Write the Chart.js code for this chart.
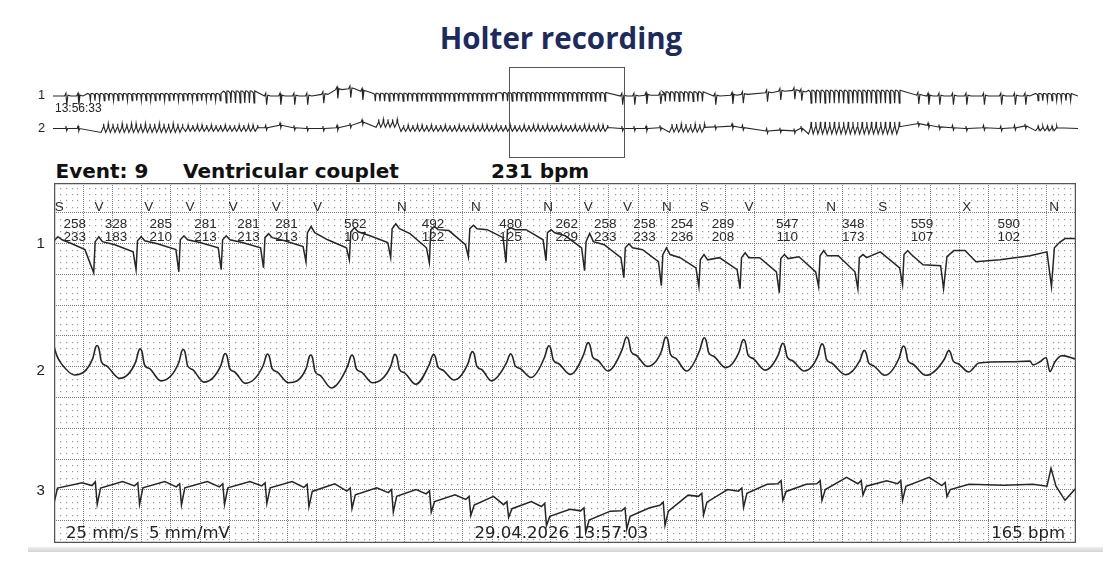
<!DOCTYPE html>
<html lang="en">
<head>
<meta charset="utf-8">
<title>Holter recording</title>
<script src="https://cdn.jsdelivr.net/npm/chart.js"></script>
<style>
  html, body { margin: 0; padding: 0; background: #fff; }
  body { width: 1116px; height: 568px; position: relative; overflow: hidden; }
  .t { position: absolute; white-space: pre; line-height: 1; }
  #ovWrap { position: absolute; left: 53px; top: 66px; width: 1025px; height: 93px; }
  #stripWrap { position: absolute; left: 54px; top: 183px; width: 1022px; height: 360px; }
  .shade { position: absolute; left: 28px; top: 547px; width: 1075px; height: 5px;
           background: linear-gradient(#eeeeee, #d4d4d4); }
</style>
</head>
<body>
<div id="ovWrap"><canvas id="overview" width="1025" height="93"></canvas></div>
<div id="stripWrap"><canvas id="strip" width="1022" height="360"></canvas></div>
<div class="shade"></div>

<script>
// ---------- event strip (7 s, 25 mm/s, 5 mm/mV), times in s, values in mV ----------
const stripSeconds = 7;
const leadOffset = [9, 5, 1];          // baseline of lead 1/2/3 on the paper, in mV

// lead 1: deep negative deflection per beat, then upstroke, small spike, plateau, slope down
const l1InT = [0, 0.027, 0.055, 0.123, 0.212];
const l1InV = [0.09, 0.22, 0.12, -0.01, -0.20];
const l1NadirT = [0.272, 0.562, 0.855, 1.145, 1.435, 1.726, 2.023, 2.306, 2.571, 2.838, 3.096,
                  3.370, 3.634, 3.903, 4.160, 4.417, 4.699, 4.968, 5.237, 5.506, 5.812, 6.093];
const l1NadirV = [-0.95, -0.85, -0.92, -0.85, -0.79, -0.59, -0.53, -0.46, -0.62, -0.43, -0.62,
                  -0.56, -0.88, -1.11, -1.37, -1.40, -1.47, -1.60, -1.40, -1.47, -1.34, -1.47];
const l1TopV   = [0.06, 0.09, 0.12, 0.12, 0.19, 0.35, 0.38, 0.48, 0.45, 0.48, 0.45,
                  0.35, 0.06, -0.14, -0.36, -0.53, -0.46, -0.49, -0.40, -0.46, -0.36];
const l1SpikeV = [0.22, 0.22, 0.25, 0.25, 0.32, 0.55, 0.51, 0.64, 0.55, 0.59, 0.51,
                  0.45, 0.33, -0.01, -0.14, -0.36, -0.30, -0.36, -0.23, -0.36, -0.23];
const l1PlatV  = [-0.04, -0.01, 0.03, 0.03, 0.09, 0.12, 0.25, 0.32, 0.42, 0.45, 0.45,
                  0.25, -0.04, -0.20, -0.46, -0.46, -0.46, -0.43, -0.40, -0.27, -0.69];
const l1PreV   = [-0.27, -0.20, -0.14, -0.14, -0.10, -0.14, 0.03, -0.14, -0.04, 0.19, 0.12,
                  -0.14, -0.46, -0.59, -0.79, -0.85, -0.92, -0.92, -0.92, -0.79, -0.72];
const l1TailT = [6.116, 6.164, 6.240, 6.315, 6.479, 6.685, 6.801, 6.832, 6.852, 6.888, 6.925, 7.0];
const l1TailV = [-0.43, -0.23, -0.23, -0.59, -0.53, -0.40, -0.27, -1.40, -0.14, 0.04, 0.16, 0.16];

// lead 2: peaked waves with troughs in between
const l2InT = [0, 0.02, 0.05];
const l2InV = [0.66, 0.35, 0.10];
const l2TroughT = [0.142, 0.449, 0.732, 1.027, 1.310, 1.605, 1.899, 2.182, 2.477, 2.737, 2.996, 3.267,
                   3.537, 3.794, 4.062, 4.332, 4.601, 4.870, 5.139, 5.421, 5.689, 5.971, 6.264];
const l2TroughV = [-0.27, -0.38, -0.46, -0.50, -0.54, -0.52, -0.69, -0.52, -0.57, -0.43, -0.46, -0.35,
                   -0.25, -0.14, 0.01, -0.14, -0.03, -0.11, -0.14, -0.26, -0.28, -0.28, -0.17];
const l2PeakT = [0.295, 0.590, 0.885, 1.173, 1.463, 1.758, 2.041, 2.336, 2.600, 2.866, 3.128,
                 3.390, 3.659, 3.923, 4.192, 4.454, 4.723, 4.992, 5.261, 5.550, 5.819, 6.129];
const l2PeakV = [0.69, 0.58, 0.56, 0.43, 0.41, 0.38, 0.38, 0.40, 0.40, 0.49, 0.42,
                 0.68, 0.78, 0.96, 0.96, 0.94, 0.88, 0.76, 0.74, 0.53, 0.67, 0.53];
const l2TailT = [6.336, 6.548, 6.685, 6.705, 6.753, 6.795, 6.822, 6.856, 6.904, 7.0];
const l2TailV = [0.12, 0.16, 0.18, 0.06, 0.16, 0.30, -0.16, 0.16, 0.36, 0.24];

// lead 3: sharp negative spike per beat on a drifting baseline
const l3InT = [0, 0.024, 0.192, 0.26, 0.283];
const l3InV = [-0.44, 0.06, 0.23, 0.14, 0.26];
const l3SpikeT = [0.296, 0.586, 0.873, 1.168, 1.458, 1.746, 2.041, 2.324, 2.584, 2.855, 3.114,
                  3.373, 3.642, 3.923, 4.185, 4.449, 4.723, 4.992, 5.260, 5.541, 5.812, 6.116];
const l3NadirV  = [-0.47, -0.47, -0.49, -0.47, -0.44, -0.55, -0.61, -0.72, -0.72, -0.83, -0.89,
                   -1.16, -1.39, -1.27, -1.15, -0.81, -0.57, -0.34, -0.34, -0.17, -0.34, -0.22];
const l3ReturnV = [0.06, 0.07, 0.07, 0.07, 0.07, -0.05, -0.16, -0.21, -0.38, -0.49, -0.61,
                   -0.86, -0.98, -0.86, -0.69, -0.40, -0.11, -0.05, 0.01, 0.12, 0.12, 0.01];
const l3HumpV = [0.27, 0.27, 0.27, 0.27, 0.27, 0.20, 0.07, 0.01, -0.16, -0.21, -0.38,
                 -0.63, -0.69, -0.58, -0.17, 0.01, 0.18, 0.18, 0.41, 0.30, 0.41];
const l3PreV  = [0.23, 0.20, 0.20, 0.23, 0.18, 0.06, 0.01, -0.03, -0.21, -0.38, -0.44,
                 -0.58, -0.58, -0.40, -0.11, 0.06, 0.30, 0.30, 0.30, 0.30, 0.24];
const l3TailT = [6.267, 6.507, 6.705, 6.801, 6.829, 6.863, 6.925, 7.0];
const l3TailV = [0.18, 0.15, 0.18, 0.12, 0.70, 0.12, -0.34, 0.06];

// beat annotations
const beatTypeT = [0.036, 0.308, 0.649, 0.932, 1.227, 1.522, 1.805, 2.383, 2.890, 3.385,
                   3.659, 3.928, 4.197, 4.454, 4.760, 5.322, 5.677, 6.252, 6.851];
const beatType = ['S', 'V', 'V', 'V', 'V', 'V', 'V', 'N', 'N', 'N', 'V', 'V', 'N', 'S', 'V', 'N', 'S', 'X', 'N'];
const rrT = [0.142, 0.425, 0.732, 1.038, 1.333, 1.592, 2.064, 2.596, 3.126,
             3.512, 3.775, 4.045, 4.301, 4.582, 5.023, 5.475, 5.945, 6.540];
const rrMs = [258, 328, 285, 281, 281, 281, 562, 492, 480, 262, 258, 258, 254, 289, 547, 348, 559, 590];
const hrBpm = [233, 183, 210, 213, 213, 213, 107, 122, 125, 229, 233, 233, 236, 208, 110, 173, 107, 102];

// ---------- overview strip (about 62 s from 13:56:33) ----------
const ovSpan = 61.86;
const ovCycle = 0.28;                 // beat length inside the fast runs
const ovBase = [7.875, 3.81];
const ovBoxT = [27.5, 34.48];         // window shown in the event strip
// [start s, end s, peak-to-peak, baseline shift]
const ovRuns1 = [[2.1, 10.3, 0.9, 0], [10.3, 12.4, 1.5, 0.1], [19.3, 27.0, 1.0, 0], [27.0, 33.6, 1.1, 0.05],
                 [36.8, 39.5, 1.2, 0.1], [45.6, 51.4, 1.6, 0.15], [59.3, 61.8, 0.9, 0]];
const ovRuns2 = [[2.9, 8.0, 1.1, 0], [8.0, 12.6, 0.8, 0], [19.5, 21.0, 1.0, 0.6], [21.0, 33.6, 0.8, 0],
                 [37.2, 39.5, 1.0, 0], [45.6, 51.4, 1.5, 0], [59.3, 60.8, 0.6, 0]];
const ovSlowT = [0.78, 1.51, 12.84, 13.70, 14.54, 15.32, 16.29, 17.14, 17.92, 18.65, 34.33, 35.06, 35.79, 36.63,
                 39.95, 40.98, 41.61, 43.07, 43.87, 44.72, 45.14, 52.20, 52.81, 53.47, 54.29, 55.10, 56.16,
                 57.20, 58.03, 58.66];
const ovSlowOff1 = [0, 0, 0, 0, 0, 0, 0.2, 0.8, 0.9, 0.6, 0, 0, 0.1, 0.1,
                    0, 0.1, 0.2, 0.4, 0.6, 0.7, 0.5, 0.1, 0, 0, 0, 0, 0, 0, 0, 0];
const ovSlowOff2 = [0, 0, 0.1, 0.4, 0.1, 0, 0, 0.1, 0.4, 0.8, 0, 0, 0, 0.1,
                    0.2, 0.3, 0.1, -0.3, -0.2, -0.3, 0, 0.6, 0.4, 0.2, 0.1, 0, 0.1, 0, 0.1, 0.3];
// beat outlines for the compressed overview: [time, value]
const fastShape1 = [[0, 0.35], [0.4, 0.2], [0.55, -0.65], [0.7, 0.35]];   // time in cycles, value * p-p
const fastShape2 = [[0, -0.45], [0.45, 0.1], [0.55, 0.55], [0.65, 0.15]];
const slowShape1 = [[-0.08, 0], [0, 0.35], [0.05, -1.1], [0.12, 0.1], [0.3, 0]];  // time in s
const slowShape2 = [[-0.05, 0], [0, 0.3], [0.05, -0.3], [0.1, 0]];

// ---------- build traces ----------
function pairs(ts, vs) { return ts.map((t, i) => ({x: t, y: vs[i]})); }
function shift(pts, off) { return pts.map(p => ({x: p.x, y: p.y + off})); }

function lead1() {
  const p = pairs(l1InT, l1InV);
  l1NadirT.forEach((t, i) => {
    p.push({x: t, y: l1NadirV[i]});
    if (i >= l1TopV.length) return;
    const next = l1NadirT[i + 1];
    p.push({x: t + 0.01, y: l1TopV[i]}, {x: t + 0.035, y: l1SpikeV[i]}, {x: t + 0.06, y: l1TopV[i]},
           {x: t + (next - t) * 0.5, y: l1PlatV[i]}, {x: next - 0.02, y: l1PreV[i]});
  });
  return shift(p.concat(pairs(l1TailT, l1TailV)), leadOffset[0]);
}

function lead2() {
  const p = pairs(l2InT, l2InV);
  p.push({x: l2TroughT[0], y: l2TroughV[0]});
  l2PeakT.forEach((t, i) => {
    const v = l2PeakV[i], after = l2TroughV[i + 1], a = v - after;
    p.push({x: t - 0.03, y: v - 0.4 * a}, {x: t - 0.01, y: v - 0.06}, {x: t, y: v},
           {x: t + 0.012, y: v - 0.08}, {x: t + 0.03, y: v - 0.5 * a}, {x: t + 0.065, y: v - 0.62 * a},
           {x: l2TroughT[i + 1], y: after});
  });
  return shift(p.concat(pairs(l2TailT, l2TailV)), leadOffset[1]);
}

function lead3() {
  const p = pairs(l3InT, l3InV);
  l3SpikeT.forEach((t, i) => {
    p.push({x: t, y: l3NadirV[i]}, {x: t + 0.023, y: l3ReturnV[i]});
    if (i >= l3HumpV.length) return;
    const next = l3SpikeT[i + 1];
    p.push({x: t + (next - t) * 0.6, y: l3HumpV[i]}, {x: next - 0.035, y: l3PreV[i] - 0.1},
           {x: next - 0.012, y: l3PreV[i]});
  });
  return shift(p.concat(pairs(l3TailT, l3TailV)), leadOffset[2]);
}

function overviewLead(runs, slowOff, base, fastShape, slowShape) {
  const ev = [];
  runs.forEach(([a, b, amp, off]) => {
    for (let tb = a; tb + ovCycle <= b + 1e-6; tb += ovCycle) {
      ev.push({t: tb, pts: fastShape.map(([dt, dv]) => ({x: tb + dt * ovCycle, y: base + off + dv * amp}))});
    }
  });
  ovSlowT.forEach((tb, i) => {
    ev.push({t: tb, pts: slowShape.map(([dt, dv]) => ({x: tb + dt, y: base + slowOff[i] + dv}))});
  });
  ev.sort((a, b) => a.t - b.t);
  const pts = [{x: 0, y: base}];
  ev.forEach(e => pts.push(...e.pts));
  pts.push({x: ovSpan, y: base});
  return pts;
}

// ---------- plugins ----------
const paperDots = {
  id: 'paperDots',
  beforeDatasetsDraw(chart) {
    const {ctx, chartArea: a, scales: {x, y}} = chart;
    ctx.save();
    ctx.fillStyle = '#9a9a9a';
    for (let i = 1; i < 175; i++) {
      if (i % 5 === 0) continue;
      const px = Math.round(x.getPixelForValue(i * 0.04));
      for (let j = -3; j <= 54; j++) {
        if (j % 5 === 0) continue;
        const py = Math.round(y.getPixelForValue(j * 0.2));
        if (py < a.top + 1 || py > a.bottom - 1) continue;
        ctx.fillRect(px, py, 1.2, 1.2);
      }
    }
    ctx.restore();
  }
};

const frame = {
  id: 'frame',
  afterDatasetsDraw(chart) {
    const {ctx, chartArea: a} = chart;
    ctx.save();
    ctx.strokeStyle = '#555';
    ctx.lineWidth = 1.3;
    ctx.strokeRect(a.left + 0.6, a.top + 0.6, a.width - 1.2, a.height - 1.2);
    ctx.restore();
  }
};

const windowBox = {
  id: 'windowBox',
  afterDatasetsDraw(chart) {
    const {ctx, scales: {x, y}} = chart;
    const x1 = Math.round(x.getPixelForValue(ovBoxT[0])) + 0.5;
    const x2 = Math.round(x.getPixelForValue(ovBoxT[1])) + 0.5;
    const y1 = Math.round(y.getPixelForValue(11.5)) + 0.5;
    const y2 = Math.round(y.getPixelForValue(0.25)) + 0.5;
    ctx.save();
    ctx.strokeStyle = '#555';
    ctx.lineWidth = 1;
    ctx.strokeRect(x1, y1, x2 - x1, y2 - y1);
    ctx.restore();
  }
};

// ---------- charts ----------
const majorX = Array.from({length: 36}, (_, k) => +(k * 0.2).toFixed(2));
const majorY = Array.from({length: 11}, (_, k) => k);
const traceStyle = {borderColor: '#262626', pointRadius: 0, fill: false, tension: 0};

const strip = new Chart(document.getElementById('strip'), {
  type: 'line',
  data: {
    datasets: [
      Object.assign({data: lead1(), borderWidth: 1.5}, traceStyle),
      Object.assign({data: lead2(), borderWidth: 1.6, cubicInterpolationMode: 'monotone'}, traceStyle),
      Object.assign({data: lead3(), borderWidth: 1.5}, traceStyle)
    ]
  },
  options: {
    responsive: false,
    animation: false,
    events: [],
    layout: {padding: 0},
    plugins: {legend: {display: false}, tooltip: {enabled: false}},
    scales: {
      x: {
        type: 'linear', min: 0, max: stripSeconds,
        afterBuildTicks: ax => { ax.ticks = majorX.map(v => ({value: v})); },
        ticks: {display: false},
        grid: {color: '#7c7c7c', lineWidth: 1, drawTicks: false},
        border: {display: false, dash: [1, 1]}
      },
      y: {
        type: 'linear', min: -0.724, max: 10.964,
        afterBuildTicks: ax => { ax.ticks = majorY.map(v => ({value: v})); },
        ticks: {display: false},
        grid: {color: '#7c7c7c', lineWidth: 1, drawTicks: false},
        border: {display: false, dash: [1, 1]}
      }
    }
  },
  plugins: [paperDots, frame]
});

new Chart(document.getElementById('overview'), {
  type: 'line',
  data: {
    datasets: [
      Object.assign({data: overviewLead(ovRuns1, ovSlowOff1, ovBase[0], fastShape1, slowShape1), borderWidth: 1.1}, traceStyle),
      Object.assign({data: overviewLead(ovRuns2, ovSlowOff2, ovBase[1], fastShape2, slowShape2), borderWidth: 1.1}, traceStyle)
    ]
  },
  options: {
    responsive: false,
    animation: false,
    events: [],
    layout: {padding: 0},
    plugins: {legend: {display: false}, tooltip: {enabled: false}},
    scales: {
      x: {type: 'linear', min: 0, max: ovSpan, display: false},
      y: {type: 'linear', min: 0, max: 11.625, display: false}
    }
  },
  plugins: [windowBox]
});

// ---------- text ----------
function txt(str, x, base, size, family, opt) {
  opt = opt || {};
  const d = document.createElement('div');
  d.className = 't';
  d.textContent = str;
  d.style.fontFamily = family;
  d.style.fontSize = size + 'px';
  d.style.fontWeight = opt.weight || 'normal';
  d.style.color = opt.color || '#222';
  d.style.left = x + 'px';
  d.style.top = (base - (opt.asc || 0.846) * size) + 'px';
  if (opt.align === 'center') d.style.transform = 'translateX(-50%)';
  if (opt.align === 'right') d.style.transform = 'translateX(-100%)';
  document.body.appendChild(d);
}

const SANS = '"DejaVu Sans", sans-serif';
const NARROW = '"Liberation Sans", Arial, sans-serif';

txt('Holter recording', 561, 49.5, 29.5, '"Open Sans", Lato, sans-serif', {weight: 'bold', color: '#1c2a62', align: 'center', asc: 0.888});

txt('1', 41.5, 99.5, 12.5, NARROW, {align: 'center'});
txt('2', 41.5, 133, 12.5, NARROW, {align: 'center'});
txt('13:56:33', 55, 112.5, 12, NARROW);

txt('Event: 9', 55.5, 177.5, 20, SANS, {weight: 'bold', color: '#111'});
txt('Ventricular couplet', 183, 177.5, 20, SANS, {weight: 'bold', color: '#111'});
txt('231 bpm', 491, 177.5, 20, SANS, {weight: 'bold', color: '#111'});

txt('1', 40.7, 247.5, 15, NARROW, {align: 'center'});
txt('2', 40.7, 375, 15, NARROW, {align: 'center'});
txt('3', 40.7, 495, 15, NARROW, {align: 'center'});

const sx = strip.scales.x;
const stripLeft = 54, stripTop = 183;
beatTypeT.forEach((t, i) => txt(beatType[i], stripLeft + sx.getPixelForValue(t), stripTop + 28.7, 13.5, NARROW, {align: 'center', color: '#2a2a2a'}));
rrT.forEach((t, i) => {
  const px = stripLeft + sx.getPixelForValue(t);
  txt(String(rrMs[i]), px, stripTop + 45.3, 13.5, NARROW, {align: 'center', color: '#2a2a2a'});
  txt(String(hrBpm[i]), px, stripTop + 58.7, 13.5, NARROW, {align: 'center', color: '#2a2a2a'});
});

txt('25 mm/s  5 mm/mV', 66, 539.3, 16.5, SANS);
txt('29.04.2026 13:57:03', 474.5, 539.3, 16.5, SANS);
txt('165 bpm', 1065, 539.3, 16.5, SANS, {align: 'right'});
</script>
</body>
</html>
